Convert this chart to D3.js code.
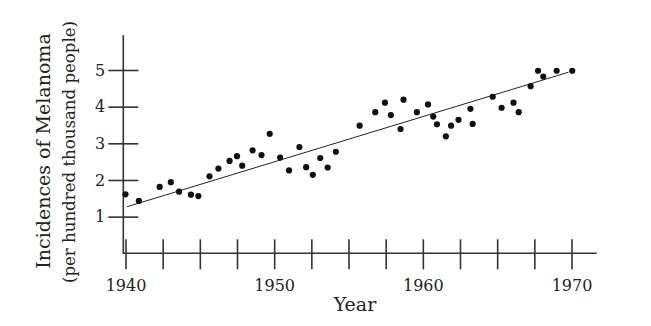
<!DOCTYPE html>
<html>
<head>
<meta charset="utf-8">
<script src="https://cdn.jsdelivr.net/npm/d3@7"></script>
<style>
  body { margin: 0; background: #fff; }
  text { font-family: "DejaVu Serif", serif; fill: #222; }
</style>
</head>
<body>
<div id="chart"></div>
<script>
// data
const years = [
  1940.0, 1940.9, 1942.3, 1943.05, 1943.6, 1944.4, 1944.9, 1945.65, 1946.25, 1947.0,
  1947.5, 1947.85, 1948.55, 1949.15, 1949.7, 1950.4, 1951.0, 1951.7, 1952.15, 1952.6,
  1953.1, 1953.6, 1954.15, 1955.75, 1956.8, 1957.45, 1957.85, 1958.5, 1958.7, 1959.6,
  1960.35, 1960.7, 1960.95, 1961.55, 1961.9, 1962.4, 1963.2, 1963.35, 1964.7, 1965.3,
  1966.1, 1966.45, 1967.25, 1967.75, 1968.1, 1969.0, 1970.05
];
const incidences = [
  1.61, 1.43, 1.81, 1.94, 1.68, 1.60, 1.56, 2.10, 2.31, 2.52,
  2.65, 2.39, 2.81, 2.68, 3.26, 2.61, 2.26, 2.90, 2.35, 2.14,
  2.60, 2.34, 2.77, 3.48, 3.85, 4.11, 3.77, 3.39, 4.19, 3.85,
  4.06, 3.73, 3.52, 3.19, 3.48, 3.64, 3.94, 3.53, 4.27, 3.97,
  4.11, 3.85, 4.56, 4.98, 4.82, 4.98, 4.98
];
const fitYears = [1940.1, 1969.8];
const fitValues = [1.27, 4.94];
const xTicks = [1940, 1942.5, 1945, 1947.5, 1950, 1952.5, 1955, 1957.5, 1960, 1962.5, 1965, 1967.5, 1970];
const xLabels = [1940, 1950, 1960, 1970];
const yTicks = [1, 2, 3, 4, 5];

const WIDTH = 651, HEIGHT = 326;
const svg = d3.select('#chart').append('svg')
  .attr('width', WIDTH)
  .attr('height', HEIGHT);

const x = d3.scaleLinear().domain([1940, 1970]).range([125.5, 571.5]);
const y = d3.scaleLinear().domain([0, 5]).range([253.3, 70]);
const axisColor = '#333';
const yAxisX = 123.3;

// x axis
const gx = svg.append('g')
  .attr('transform', `translate(0,${y(0)})`)
  .call(d3.axisBottom(x)
    .tickValues(xTicks)
    .tickSize(16)
    .tickFormat((d) => (xLabels.includes(d) ? d : '')));
gx.select('.domain').remove();
gx.selectAll('.tick line')
  .attr('y1', -14).attr('y2', 16)
  .attr('stroke', axisColor).attr('stroke-width', 1.6);
gx.selectAll('.tick text')
  .attr('y', 26).attr('dy', '0.71em')
  .style('font-size', '16px').style('font-family', '"DejaVu Serif", serif')
  .attr('fill', '#222');
svg.append('line')
  .attr('x1', yAxisX - 0.7).attr('x2', x(1971.7))
  .attr('y1', y(0)).attr('y2', y(0))
  .attr('stroke', axisColor).attr('stroke-width', 1.6);

// y axis
const gy = svg.append('g')
  .attr('transform', `translate(${yAxisX},0)`)
  .call(d3.axisLeft(y).tickValues(yTicks).tickSize(15).tickFormat(d3.format('d')));
gy.select('.domain').remove();
gy.selectAll('.tick line')
  .attr('x1', -15).attr('x2', 15)
  .attr('stroke', axisColor).attr('stroke-width', 1.6);
gy.selectAll('.tick text')
  .attr('x', -18)
  .style('font-size', '16px').style('font-family', '"DejaVu Serif", serif')
  .attr('fill', '#222');
svg.append('line')
  .attr('x1', yAxisX).attr('x2', yAxisX)
  .attr('y1', y(5.95)).attr('y2', y(0))
  .attr('stroke', axisColor).attr('stroke-width', 1.6);

// fitted line
svg.append('line')
  .attr('x1', x(fitYears[0])).attr('y1', y(fitValues[0]))
  .attr('x2', x(fitYears[1])).attr('y2', y(fitValues[1]))
  .attr('stroke', '#222').attr('stroke-width', 1);

// points
svg.append('g')
  .selectAll('circle')
  .data(years.map((yr, i) => ({ year: yr, value: incidences[i] })))
  .join('circle')
  .attr('cx', (d) => x(d.year))
  .attr('cy', (d) => y(d.value))
  .attr('r', 3.1)
  .attr('fill', '#111');

// titles
svg.append('text')
  .attr('x', 355).attr('y', 311)
  .attr('text-anchor', 'middle')
  .style('font-size', '19px')
  .text('Year');

svg.append('text')
  .attr('transform', 'translate(50,151) rotate(-90)')
  .attr('text-anchor', 'middle')
  .style('font-size', '19px')
  .text('Incidences of Melanoma');

svg.append('text')
  .attr('transform', 'translate(75,152) rotate(-90)')
  .attr('text-anchor', 'middle')
  .style('font-size', '16.6px')
  .text('(per hundred thousand people)');
</script>
</body>
</html>
